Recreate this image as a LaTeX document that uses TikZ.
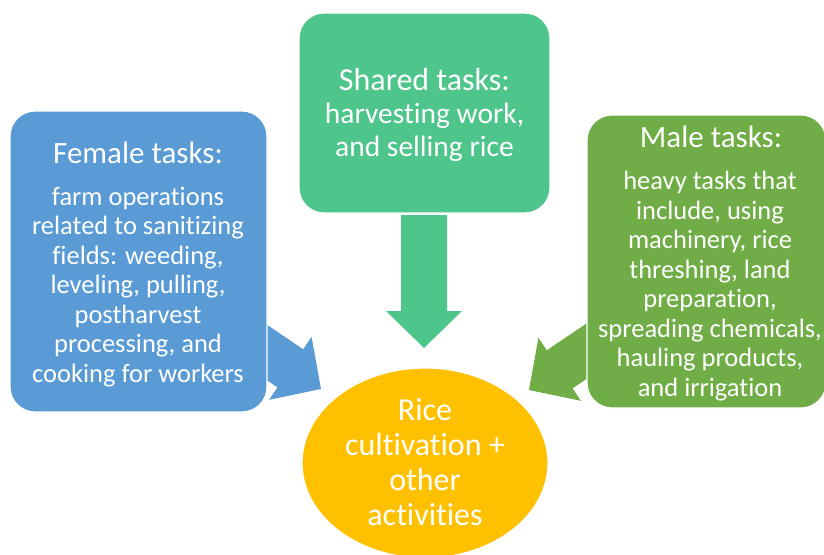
\documentclass[tikz,border=0pt]{standalone}
\usepackage{fontspec}
\setmainfont{Carlito}[RawFeature={-liga}]
\usetikzlibrary{shapes.geometric}
\definecolor{femblue}{HTML}{5B9BD5}
\definecolor{sharegreen}{HTML}{4EC58A}
\definecolor{malegreen}{HTML}{70AD47}
\definecolor{riceyellow}{HTML}{FFC000}
% block arrow: tip, angle, length, colour
\newcommand{\blockarrow}[4]{%
  \fill[#4,shift={(#1)},rotate=#2](0,0)--(-37,38)--(-37,23)--(-#3,23)
    --(-#3,-23)--(-37,-23)--(-37,-38)--cycle;}

\begin{document}
\begin{tikzpicture}[x=1pt,y=-1pt,
          taskbox/.style={rounded corners=25pt,draw=white,line width=1.2pt,inner sep=0pt},
          title/.style={text=white,font=\fontsize{31}{33}\selectfont},
          body/.style={text=white,align=center,font=\fontsize{26.5}{29.5}\selectfont}]
          \useasboundingbox(0,0)rectangle(824,554);
          \coordinate(ftip)at(321,389);
          \coordinate(stip)at(424,348);
          \coordinate(mtip)at(529,390);
          \blockarrow{ftip}{-34}{95}{femblue}
          \blockarrow{stip}{-90}{133}{sharegreen}
          \blockarrow{mtip}{214}{95}{malegreen}
          \node[taskbox,fill=femblue,minimum width=257pt,minimum height=301pt](fem)at(138.5,261.5){};
          \node[taskbox,fill=sharegreen,minimum width=251pt,minimum height=200pt](shared)at(424.5,113){};
          \node[taskbox,fill=malegreen,minimum width=239pt,minimum height=293pt](male)at(706.5,261.5){};
          \node[ellipse,fill=riceyellow,draw=white,line width=1.2pt,minimum width=246pt,
            minimum height=190pt,inner sep=0pt](rice)at(425,463){};
          \node[title](femt)at(138,153){Female tasks:};
          \node[body](femb)at(138,287){farm operations\\related to sanitizing\\fields: weeding,\\
            leveling, pulling,\\postharvest\\processing, and\\cooking for workers};
          \node[title,align=center](sharet)at(424.5,115){{\fontsize{32}{33}\selectfont Shared tasks:}\\
            {\fontsize{29.5}{33}\selectfont harvesting work,}\\{\fontsize{29.5}{33}\selectfont and selling rice}};
          \node[title](malet)at(711,137){Male tasks:};
          \node[body](maleb)at(710,286){heavy tasks that\\include, using\\machinery, rice\\
            threshing, land\\preparation,\\spreading chemicals,\\hauling products,\\and irrigation};
          \node[title,align=center,font=\fontsize{32}{35}\selectfont](ricet)at(425,462)
            {Rice\\cultivation +\\other\\activities};
        \end{tikzpicture}
\end{document}
